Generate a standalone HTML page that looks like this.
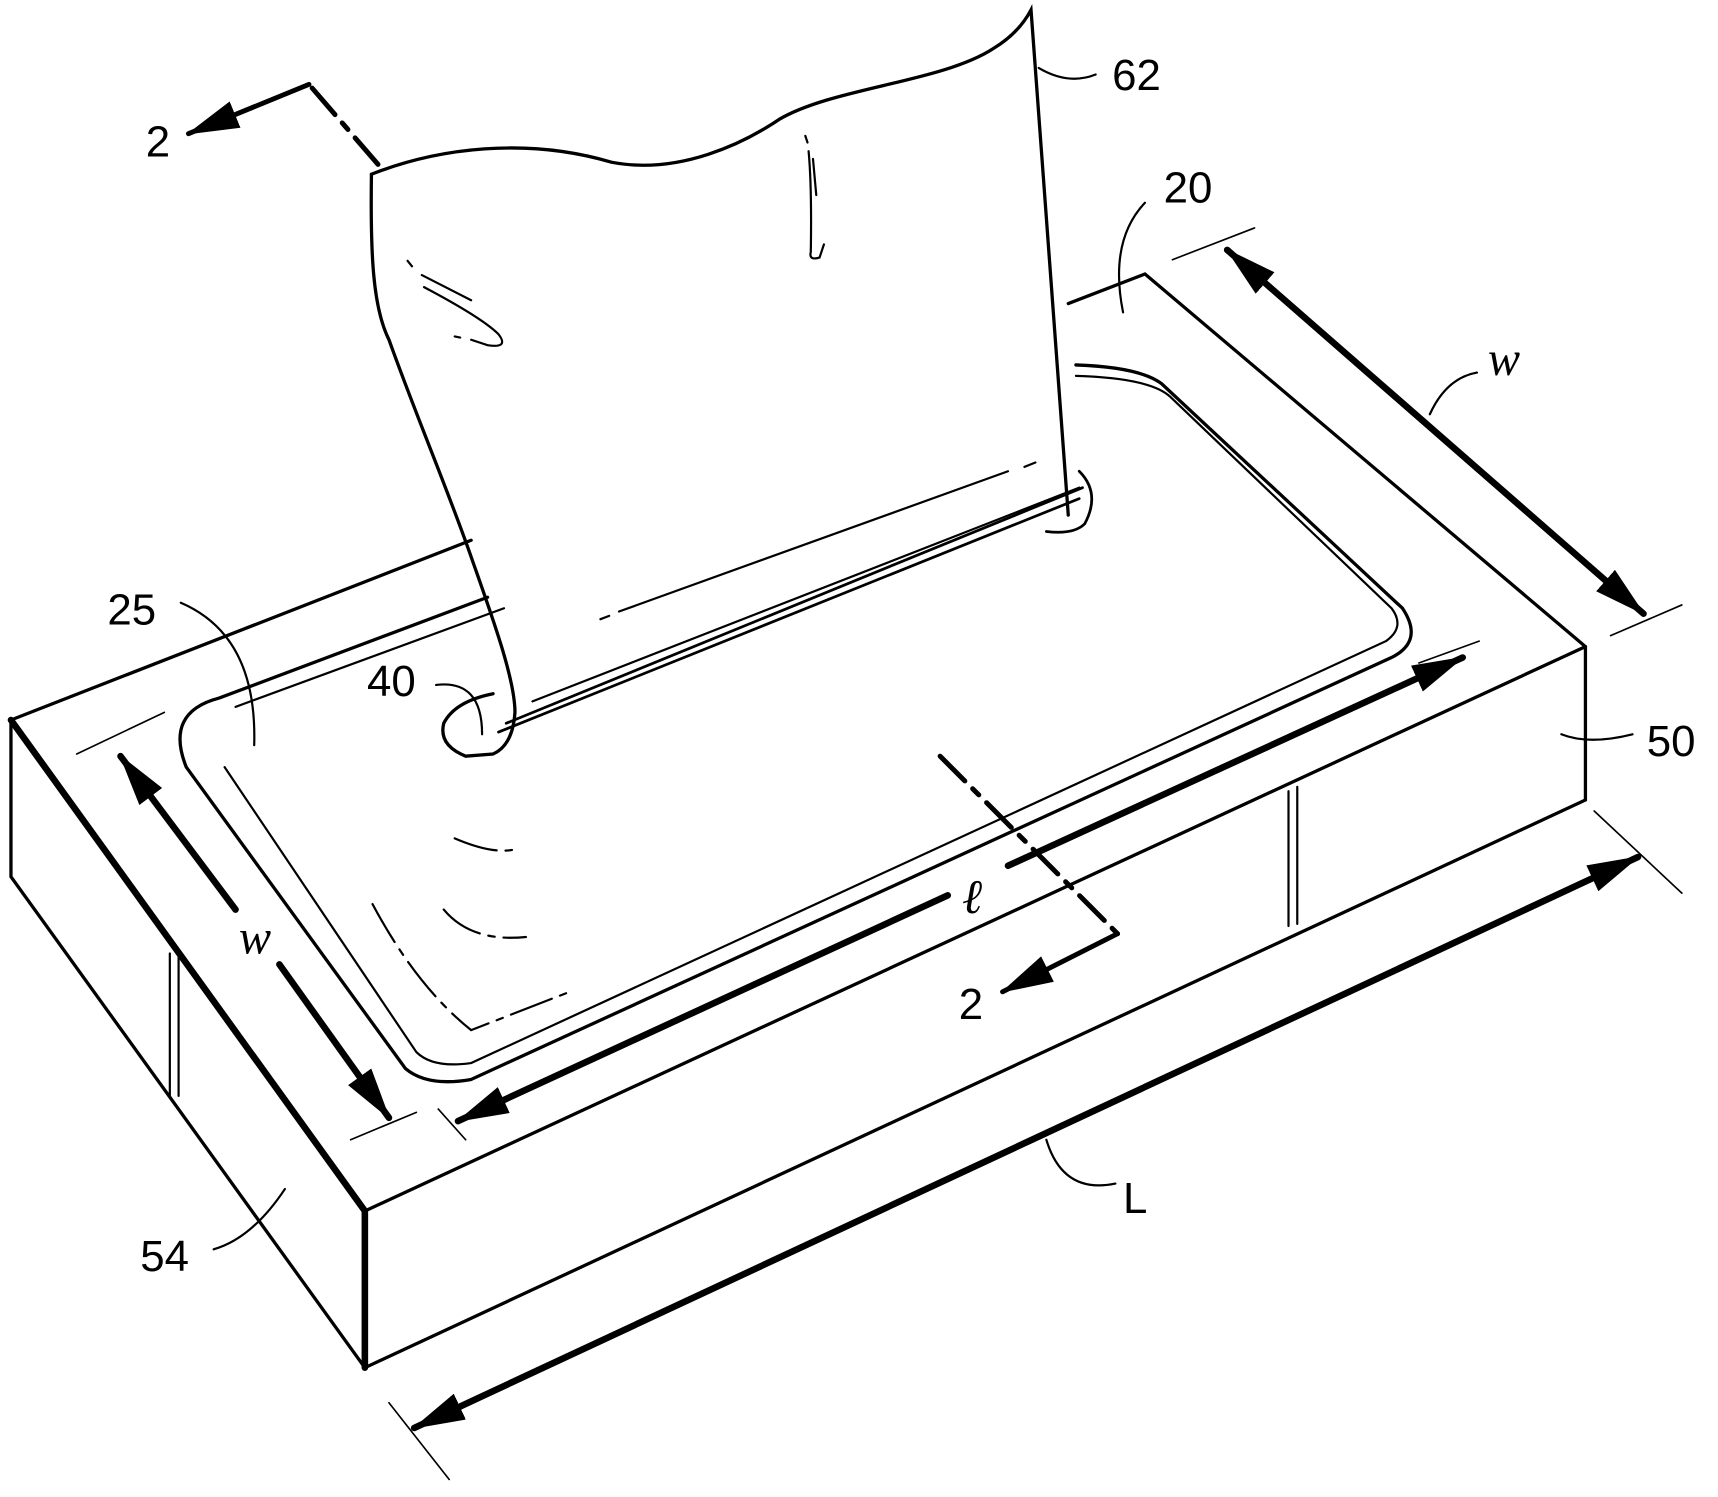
<!DOCTYPE html>
<html><head><style>html,body{margin:0;padding:0;background:#fff}svg{display:block}</style></head><body>
<svg width="1718" height="1497" viewBox="0 0 1568 1366" preserveAspectRatio="none" xmlns="http://www.w3.org/2000/svg" font-family="Liberation Sans, sans-serif" font-size="40">
<defs>
<marker id="b" markerWidth="48" markerHeight="26" refX="46" refY="13" orient="auto" markerUnits="userSpaceOnUse"><path d="M0,0L48,13L0,26z" fill="#000"/></marker>
<marker id="bs" markerWidth="48" markerHeight="26" refX="2" refY="13" orient="auto" markerUnits="userSpaceOnUse"><path d="M48,0L0,13L48,26z" fill="#000"/></marker>
</defs>
<g fill="none" stroke="#000" stroke-width="3" stroke-linecap="round">
<!-- box -->
<path d="M10,657L10,800L333,1248L1447,730L1447,590L1045,250L975,277"/>
<path d="M10,657L430,493"/>
<path d="M333,1105L1447,590"/>
<path d="M10,657L333,1105L333,1248" stroke-width="6"/>
<!-- inner fold lines -->
<path d="M155,870L155,1000M163,868L163,1000M1176,722L1176,845M1184,718L1184,843" stroke-width="2"/>
<!-- opening -->
<path d="M445,545L200,637Q150,650 170,700L370,975Q390,992 430,985L1270,600Q1300,585 1280,555L1060,350Q1040,335 982,333" stroke-width="3"/>
<path d="M460,555L215,645" stroke-width="2"/>
<path d="M205,700L380,960Q395,975 430,970L1265,585Q1283,572 1270,555L1068,362Q1050,345 982,343" stroke-width="2"/>
<path d="M455,668L985,455M462,660L988,445" stroke-width="2.5"/>
<!-- tissue -->
<path d="M339,159C400,135 480,125 558,148C620,160 680,130 711,109C760,80 860,75 907,44Q930,30 941,9L975,470"/>
<path d="M339,159C338,230 340,280 355,310C380,380 410,450 431,511C450,565 470,620 470,650Q468,680 450,688L425,690Q400,680 405,660Q415,640 450,633"/>
<path d="M985,430Q1005,450 990,478Q980,488 955,485" stroke-width="2.5"/>
<!-- tissue creases -->
<path d="M372,238L376,243M385,251L430,274M387,262Q440,290 455,305Q465,318 445,315L430,310M415,307L420,308M735,124L737,130M738,138Q741,170 740,230Q738,238 748,235L752,223M742,145L745,178" stroke-width="2"/>
<path d="M548,565L556,562M565,558L920,430M935,426L945,422M486,640L985,445" stroke-width="2"/>
<path d="M415,765Q450,780 470,775M405,830Q430,860 480,855M340,825Q380,900 430,940L520,905" stroke-width="2" stroke-dasharray="40 8 6 8"/>
<!-- section line 2-2 -->
<path d="M345,150L282,77" stroke-width="4.5" stroke-dasharray="32 10 8 10"/>
<path d="M282,77L172,122" stroke-width="4.5" marker-end="url(#b)"/>
<path d="M858,690L1020,852" stroke-width="4.5" stroke-dasharray="32 10 8 10"/>
<path d="M1020,852L915,905" stroke-width="4.5" marker-end="url(#b)"/>
<!-- dimension arrows -->
<path d="M1120,228L1500,560" stroke-width="6" marker-end="url(#b)" marker-start="url(#bs)"/>
<path d="M1070,237L1145,208M1470,580L1535,552M70,688L150,650M320,1040L380,1015M400,1012L425,1040M1295,605L1350,585M355,1280L410,1350M1455,740L1535,815" stroke-width="1.5"/>
<path d="M215,830L110,690" stroke-width="6" marker-end="url(#b)"/>
<path d="M255,880L355,1020" stroke-width="6" marker-end="url(#b)"/>
<path d="M865,817L418,1023" stroke-width="6" marker-end="url(#b)"/>
<path d="M920,790L1335,600" stroke-width="6" marker-end="url(#b)"/>
<path d="M378,1303L1495,782" stroke-width="6" marker-end="url(#b)" marker-start="url(#bs)"/>
<!-- leaders -->
<path d="M948,62Q975,78 1000,68" stroke-width="2"/>
<path d="M1025,285Q1012,220 1045,185" stroke-width="2"/>
<path d="M1305,378Q1320,345 1348,340" stroke-width="2"/>
<path d="M165,550Q235,580 232,680" stroke-width="2"/>
<path d="M398,625Q440,620 440,670" stroke-width="2"/>
<path d="M1425,670Q1450,680 1490,670" stroke-width="2"/>
<path d="M955,1040Q970,1090 1018,1080" stroke-width="2"/>
<path d="M195,1140Q230,1130 260,1085" stroke-width="2"/>
</g>
<g fill="#000">
<text x="1015" y="82">62</text>
<text x="1062" y="185">20</text>
<text x="133" y="143">2</text>
<text x="98" y="570">25</text>
<text x="335" y="635">40</text>
<text x="1503" y="690">50</text>
<text x="875" y="930">2</text>
<text x="1025" y="1107">L</text>
<text x="128" y="1160">54</text>
<text x="1358" y="342" font-family="Liberation Serif, serif" font-style="italic" font-size="44">w</text>
<text x="218" y="870" font-family="Liberation Serif, serif" font-style="italic" font-size="44">w</text>
<text x="878" y="833" font-family="Liberation Serif, serif" font-style="italic" font-size="44">ℓ</text>
</g>
</svg>
</body></html>
